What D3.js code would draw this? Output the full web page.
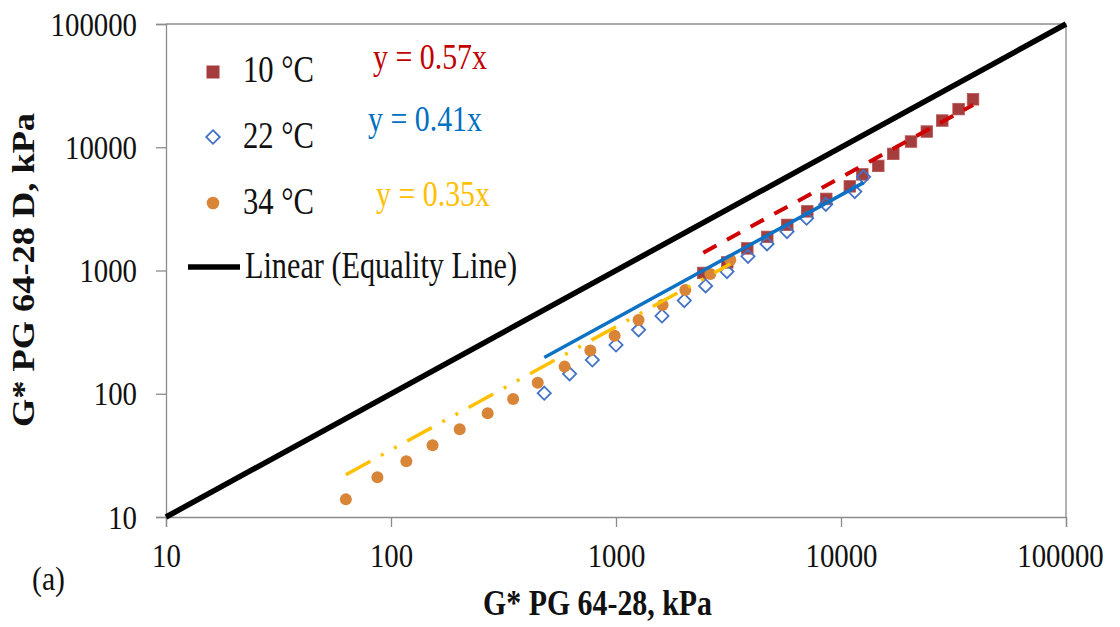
<!DOCTYPE html>
<html>
<head>
<meta charset="utf-8">
<script src="https://cdn.jsdelivr.net/npm/d3@7/dist/d3.min.js"></script>
<style>
  html, body { margin: 0; padding: 0; background: #fff; }
  svg { display: block; }
  text { font-family: "Liberation Serif", "Times New Roman", serif; }
</style>
</head>
<body>
<svg id="chart" width="1120" height="627"></svg>
<script>
// G* of PG 64-28 (x) vs G* of PG 64-28 D (y), kPa
const x10 = [2443, 3123, 3833, 4704, 5773, 7084, 8602, 10942, 12436, 14647, 17080, 20470, 24060, 28200, 33310, 38620];
const y10 = [956, 1163, 1511, 1874, 2345, 3017, 3812, 4815, 6025, 7063, 8840, 11126, 13410, 16470, 20390, 24480];

const x22 = [480, 622, 785, 1000, 1260, 1601, 2012, 2502, 3113, 3861, 4690, 5754, 7033, 8557, 11514, 12600];
const y22 = [101, 145, 188, 249, 330, 428, 570, 750, 980, 1302, 1644, 2069, 2657, 3440, 4370, 5750];

const x34 = [63, 87, 117, 153, 202, 269, 349, 449, 591, 769, 986, 1260, 1611, 2032, 2625, 3221];
const y34 = [13.9, 21.0, 28.3, 38.2, 51.5, 69.5, 90.7, 123, 166, 224, 295, 397, 526, 696, 938, 1219];

// Trend line slopes (y = k·x)
const slopes = [0.57, 0.41, 0.35];
const seriesNames = ["10 °C", "22 °C", "34 °C"];
const equations = ["y = 0.57x", "y = 0.41x", "y = 0.35x"];
const tickValues = [10, 100, 1000, 10000, 100000];
const axisRange = [10, 100000];

const svg = d3.select("#chart");
const L = 166, R = 1066, T = 24, B = 517;

const x = d3.scaleLog().domain(axisRange).range([L, R]);
const y = d3.scaleLog().domain(axisRange).range([B, T]);

const axisColor = "#8c8c8c";

// plot frame (top and right edges)
svg.append("path")
  .attr("d", `M${L},${T}H${R}V${B}`)
  .attr("fill", "none").attr("stroke", axisColor).attr("stroke-width", 1.3);

// widths per label length, to match the narrow serif face
const digitW = 14.4;

const yAxis = svg.append("g").attr("transform", `translate(${L},0)`)
  .call(d3.axisLeft(y).tickValues(tickValues).tickFormat(d3.format("d")).tickSize(10).tickPadding(19));
const xAxis = svg.append("g").attr("transform", `translate(0,${B})`)
  .call(d3.axisBottom(x).tickValues(tickValues).tickFormat(d3.format("d")).tickSize(10).tickPadding(17));

[yAxis, xAxis].forEach(g => {
  g.select(".domain").attr("stroke", axisColor).attr("stroke-width", 1.3);
  g.selectAll(".tick line").attr("stroke", axisColor).attr("stroke-width", 1.3);
  g.selectAll(".tick text")
    .attr("font-family", "Liberation Serif")
    .attr("font-size", 33)
    .attr("fill", "#111")
    .attr("lengthAdjust", "spacingAndGlyphs")
    .attr("textLength", d => String(d).length * digitW);
});
yAxis.selectAll(".tick text").attr("dy", "0.34em");
// keep the last bottom label inside the page
xAxis.selectAll(".tick text").filter(d => d === 100000).attr("x", -6);

// markers: 10 °C squares
const plot = svg.append("g");
const sq = 11.5;
plot.selectAll("rect.s10").data(x10).join("rect")
  .attr("class", "s10")
  .attr("x", (d, i) => x(d) - sq / 2)
  .attr("y", (d, i) => y(y10[i]) - sq / 2)
  .attr("width", sq).attr("height", sq)
  .attr("fill", "#A63D3D").attr("stroke", "#B65252").attr("stroke-width", 0.8);

// 22 °C open diamonds
const dm = 6.6;
const diamond = (cx, cy, r) => `M${cx},${cy - r}L${cx + r},${cy}L${cx},${cy + r}L${cx - r},${cy}Z`;
plot.selectAll("path.s22").data(x22).join("path")
  .attr("class", "s22")
  .attr("d", (d, i) => diamond(x(d), y(y22[i]), dm))
  .attr("fill", "none").attr("stroke", "#4472C4").attr("stroke-width", 1.8);

// 34 °C dots
plot.selectAll("circle.s34").data(x34).join("circle")
  .attr("class", "s34")
  .attr("cx", d => x(d))
  .attr("cy", (d, i) => y(y34[i]))
  .attr("r", 6)
  .attr("fill", "#D98538");

// trend lines through the origin
const trendStyles = [
  { color: "#D00000", width: 4, dash: "15,12", xs: x10 },
  { color: "#0E72C4", width: 3.5, dash: null, xs: x22 },
  { color: "#FFC000", width: 3.5, dash: "28,12,3,12,3,12", xs: x34 }
];
const line = d3.line().x(d => x(d[0])).y(d => y(d[1]));
trendStyles.forEach((s, i) => {
  const [lo, hi] = d3.extent(s.xs);
  svg.append("path")
    .attr("d", line([[lo, slopes[i] * lo], [hi, slopes[i] * hi]]))
    .attr("fill", "none")
    .attr("stroke", s.color)
    .attr("stroke-width", s.width)
    .attr("stroke-dasharray", s.dash);
});

// equality line y = x
svg.append("path")
  .attr("d", line(axisRange.map(v => [v, v])))
  .attr("fill", "none").attr("stroke", "#000").attr("stroke-width", 5.5);

// legend
const leg = svg.append("g");
const legX = 213, legRows = [72, 137, 203];
leg.append("rect").attr("x", legX - 6.5).attr("y", legRows[0] - 6.5).attr("width", 13).attr("height", 13)
  .attr("fill", "#A63D3D");
leg.append("path").attr("d", diamond(legX, legRows[1], 6.8))
  .attr("fill", "none").attr("stroke", "#4472C4").attr("stroke-width", 1.8);
leg.append("circle").attr("cx", legX).attr("cy", legRows[2]).attr("r", 6.3).attr("fill", "#D98538");
leg.append("line").attr("x1", 188).attr("x2", 240).attr("y1", 267).attr("y2", 267)
  .attr("stroke", "#000").attr("stroke-width", 5.5);

const legBase = [82, 148, 214];
seriesNames.forEach((t, i) => {
  leg.append("text").attr("x", 243).attr("y", legBase[i])
    .attr("font-size", 37).attr("fill", "#111")
    .attr("lengthAdjust", "spacingAndGlyphs").attr("textLength", 71)
    .text(t);
});
leg.append("text").attr("x", 245).attr("y", 278)
  .attr("font-size", 37).attr("fill", "#111")
  .attr("lengthAdjust", "spacingAndGlyphs").attr("textLength", 272)
  .text("Linear (Equality Line)");

// trend line equations
const eqColors = ["#C00000", "#0070C0", "#FFC000"];
const eqPos = [[373, 69], [368, 131], [376, 206]];
equations.forEach((t, i) => {
  svg.append("text").attr("x", eqPos[i][0]).attr("y", eqPos[i][1])
    .attr("font-size", 35).attr("fill", eqColors[i])
    .attr("lengthAdjust", "spacingAndGlyphs").attr("textLength", 114)
    .text(t);
});

// axis titles
svg.append("text").attr("x", 483).attr("y", 615)
  .attr("font-size", 35).attr("font-weight", "bold").attr("fill", "#111")
  .attr("lengthAdjust", "spacingAndGlyphs").attr("textLength", 229)
  .text("G* PG 64-28, kPa");

svg.append("g").attr("transform", "translate(34,270) scale(0.85,1) rotate(-90)")
  .append("text").attr("text-anchor", "middle")
  .attr("font-size", 36).attr("font-weight", "bold").attr("fill", "#111")
  .attr("lengthAdjust", "spacingAndGlyphs").attr("textLength", 314)
  .text("G* PG 64-28 D, kPa");

// panel label
svg.append("text").attr("x", 32).attr("y", 590)
  .attr("font-size", 34).attr("fill", "#111")
  .attr("lengthAdjust", "spacingAndGlyphs").attr("textLength", 33)
  .text("(a)");
</script>
</body>
</html>
